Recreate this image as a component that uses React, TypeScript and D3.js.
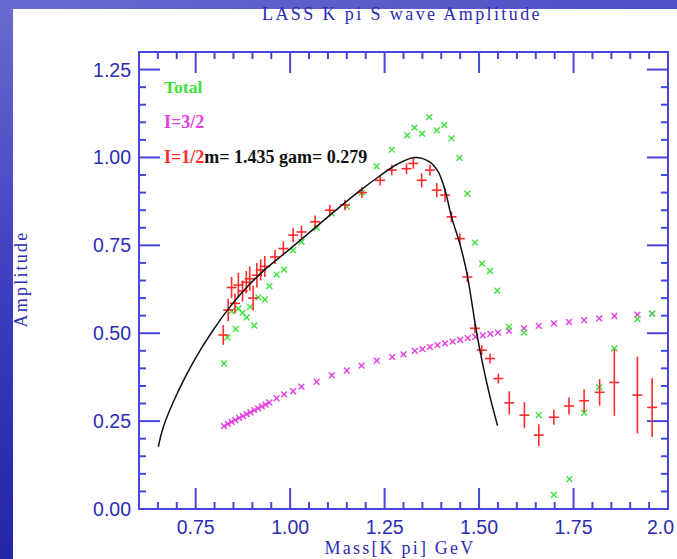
import React from "react";
import * as d3 from "d3";

const W = 677;
const H = 559;

// I=1/2 points: mass, amplitude, error
const redMass = [0.823,0.836,0.845,0.854,0.863,0.874,0.884,0.893,0.902,0.912,0.922,0.933,0.960,0.982,1.008,1.030,1.066,1.105,1.145,1.190,1.238,1.269,1.308,1.326,1.348,1.370,1.388,1.410,1.427,1.449,1.469,1.489,1.507,1.529,1.551,1.580,1.620,1.658,1.698,1.738,1.778,1.819,1.858,1.919,1.958];
const redAmp = [0.495,0.566,0.630,0.585,0.637,0.620,0.645,0.655,0.600,0.665,0.680,0.690,0.717,0.741,0.779,0.788,0.817,0.850,0.865,0.900,0.935,0.964,0.968,0.983,0.935,0.964,0.907,0.893,0.831,0.769,0.660,0.514,0.452,0.428,0.371,0.302,0.267,0.210,0.261,0.293,0.308,0.332,0.360,0.324,0.289];
const redErr = [0.028,0.032,0.030,0.028,0.035,0.030,0.032,0.035,0.035,0.035,0.030,0.030,0.020,0.020,0.020,0.018,0.018,0.015,0.015,0.015,0.015,0.015,0.015,0.015,0.020,0.015,0.020,0.020,0.015,0.015,0.015,0.014,0.014,0.014,0.014,0.033,0.037,0.031,0.021,0.024,0.033,0.038,0.095,0.109,0.084];

// Total points
const totMass = [0.825,0.834,0.845,0.856,0.863,0.874,0.885,0.894,0.905,0.916,0.933,0.945,0.964,0.984,1.008,1.030,1.070,1.110,1.150,1.190,1.229,1.269,1.310,1.329,1.349,1.368,1.388,1.408,1.427,1.448,1.469,1.489,1.508,1.529,1.548,1.579,1.619,1.658,1.698,1.739,1.778,1.818,1.858,1.919,1.958];
const totAmp = [0.414,0.488,0.563,0.512,0.570,0.558,0.545,0.575,0.522,0.602,0.596,0.634,0.667,0.681,0.736,0.760,0.800,0.840,0.860,0.900,0.975,1.022,1.063,1.085,1.068,1.115,1.077,1.092,1.054,0.999,0.897,0.758,0.698,0.677,0.621,0.518,0.502,0.267,0.040,0.085,0.274,0.346,0.457,0.540,0.556];

// I=3/2 points
const i32Mass = [0.825,0.835,0.845,0.855,0.865,0.875,0.885,0.895,0.905,0.915,0.925,0.935,0.945,0.964,0.984,1.008,1.030,1.070,1.110,1.150,1.189,1.229,1.270,1.300,1.330,1.350,1.370,1.390,1.410,1.430,1.450,1.470,1.490,1.510,1.530,1.550,1.579,1.619,1.658,1.698,1.738,1.778,1.818,1.858,1.919,1.958];
const i32Amp = [0.236,0.242,0.248,0.253,0.259,0.264,0.270,0.275,0.281,0.286,0.292,0.297,0.303,0.315,0.326,0.335,0.348,0.362,0.380,0.394,0.408,0.422,0.432,0.440,0.450,0.455,0.461,0.466,0.471,0.476,0.481,0.486,0.490,0.494,0.498,0.502,0.507,0.514,0.521,0.528,0.532,0.537,0.542,0.549,0.553,0.556];

// fit curve
const fitMass = [0.651,0.664,0.691,0.726,0.761,0.797,0.832,0.876,0.930,1.000,1.130,1.190,1.238,1.282,1.330,1.370,1.392,1.410,1.427,1.449,1.467,1.494,1.511,1.529,1.549];
const fitAmp = [0.177,0.232,0.305,0.383,0.450,0.510,0.563,0.620,0.678,0.740,0.858,0.910,0.948,0.980,1.000,0.987,0.959,0.907,0.831,0.755,0.675,0.499,0.405,0.319,0.237];

const xMajor = [0.75, 1.0, 1.25, 1.5, 1.75, 2.0];
const xMajorLabels = ["0.75", "1.00", "1.25", "1.50", "1.75", "2.0"];
const yMajor = [0, 0.25, 0.5, 0.75, 1.0, 1.25];
const yMajorLabels = ["0.00", "0.25", "0.50", "0.75", "1.00", "1.25"];

const BLUE = "#4646dc";
const TXT = "#2c2cb4";
const GREEN = "#3ee03e";
const MAG = "#e23ee2";
const RED = "#ff2a2a";
const SERIF = "Liberation Serif";

export default function App() {
  const x = d3.scaleLinear().domain([0.6, 2.0]).range([139, 668]);
  const y = d3.scaleLinear().domain([0, 1.3]).range([509, 52]);
  const [x0, x1] = x.range();
  const [y0, y1] = y.range();

  const xMinor = d3.range(0, 29).map((i) => 0.6 + i * 0.05);
  const yMinor = d3.range(0, 27).map((i) => i * 0.05);

  const line = d3
    .line<number>()
    .x((_, i) => x(fitMass[i]))
    .y((_, i) => y(fitAmp[i]))
    .curve(d3.curveCatmullRom.alpha(0.5));

  const isMajorX = (v: number) => xMajor.some((m) => Math.abs(m - v) < 1e-6);
  const isMajorY = (v: number) => yMajor.some((m) => Math.abs(m - v) < 1e-6);

  const xmark = (cx: number, cy: number, color: string, key: string, s = 2.9) => (
    <g key={key} stroke={color} strokeWidth={1.4}>
      <line x1={cx - s} y1={cy - s} x2={cx + s} y2={cy + s} />
      <line x1={cx - s} y1={cy + s} x2={cx + s} y2={cy - s} />
    </g>
  );

  return (
    <div style={{ position: "fixed", left: 0, top: 0 }}>
      <svg width={W} height={H} style={{ display: "block" }}>
        <defs>
          <linearGradient id="bg" x1="0" y1="0" x2="0.3" y2="1">
            <stop offset="0" stopColor="#6a6ad0" />
            <stop offset="0.5" stopColor="#3b3bbf" />
            <stop offset="1" stopColor="#2020a4" />
          </linearGradient>
        </defs>
        <rect x={0} y={0} width={W} height={H} fill="url(#bg)" />
        <rect x={13} y={9} width={W - 13} height={H - 9} fill="#ffffff" />

        {/* title */}
        <text x={402} y={20} textAnchor="middle" fill={TXT} fontFamily={SERIF} fontSize={18} letterSpacing={2.4}>
          LASS K pi S wave Amplitude
        </text>

        {/* frame */}
        <rect x={x0} y={y1} width={x1 - x0} height={y0 - y1} fill="none" stroke={BLUE} strokeWidth={2} />

        {/* x ticks */}
        {xMinor.map((v, i) => {
          const len = isMajorX(v) ? 21 : 7;
          const px = x(v);
          return (
            <g key={"xt" + i} stroke={BLUE} strokeWidth={2}>
              <line x1={px} x2={px} y1={y0} y2={y0 - len} />
              <line x1={px} x2={px} y1={y1} y2={y1 + len} />
            </g>
          );
        })}
        {/* y ticks */}
        {yMinor.map((v, i) => {
          const len = isMajorY(v) ? 21 : 7;
          const py = y(v);
          return (
            <g key={"yt" + i} stroke={BLUE} strokeWidth={2}>
              <line x1={x0} x2={x0 + len} y1={py} y2={py} />
              <line x1={x1} x2={x1 - len} y1={py} y2={py} />
            </g>
          );
        })}
        {xMajor.map((v, i) => (
          <text
            key={"xl" + i}
            x={i === xMajor.length - 1 ? x(v) - 21 : x(v)}
            y={534}
            textAnchor={i === xMajor.length - 1 ? "start" : "middle"}
            fill={TXT}
            fontFamily="Liberation Sans"
            fontSize={19.5}
          >
            {xMajorLabels[i]}
          </text>
        ))}
        {yMajor.map((v, i) => (
          <text key={"yl" + i} x={131} y={y(v) + 7} textAnchor="end" fill={TXT} fontFamily="Liberation Sans" fontSize={19.5}>
            {yMajorLabels[i]}
          </text>
        ))}
        <text x={400} y={554} textAnchor="middle" fill={TXT} fontFamily={SERIF} fontSize={18} letterSpacing={2.2}>
          Mass[K pi] GeV
        </text>
        <text
          transform={`translate(27,279) rotate(-90)`}
          textAnchor="middle"
          fill={TXT}
          fontFamily={SERIF}
          fontSize={18}
          letterSpacing={2.2}
        >
          Amplitude
        </text>

        {/* legend */}
        <text x={164} y={93} fill={GREEN} fontFamily={SERIF} fontWeight="bold" fontSize={17.5}>Total</text>
        <text x={164} y={128} fill={MAG} fontFamily={SERIF} fontWeight="bold" fontSize={18}>I=3/2</text>
        <text x={164} y={163} fontFamily={SERIF} fontWeight="bold" fontSize={18}>
          <tspan fill={RED}>I=1/2</tspan>
          <tspan fill="#111">m= 1.435 gam= 0.279</tspan>
        </text>

        {/* I=3/2 */}
        {i32Mass.map((m, i) => xmark(x(m), y(i32Amp[i]), MAG, "m" + i))}
        {/* total */}
        {totMass.map((m, i) => xmark(x(m), y(totAmp[i]), GREEN, "g" + i))}
        {/* I=1/2 */}
        {redMass.map((m, i) => {
          const px = x(m);
          const py = y(redAmp[i]);
          const e1 = y(redAmp[i] + redErr[i]);
          const e2 = y(redAmp[i] - redErr[i]);
          return (
            <g key={"r" + i} stroke={RED} strokeWidth={1.6}>
              <line x1={px - 5} x2={px + 5} y1={py} y2={py} />
              <line x1={px} x2={px} y1={e1} y2={e2} />
            </g>
          );
        })}
        {/* fit */}
        <path d={line(fitMass) || ""} fill="none" stroke="#111" strokeWidth={1.5} />
      </svg>
    </div>
  );
}
